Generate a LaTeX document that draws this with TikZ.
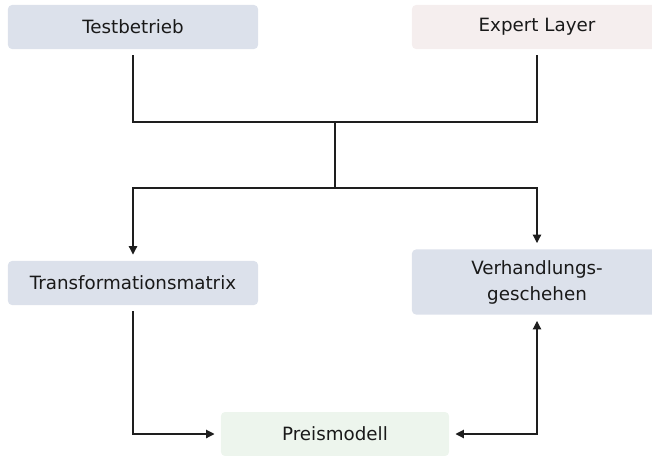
\documentclass[tikz,border=0pt]{standalone}
\usepackage{fontspec}
\setmainfont{DejaVu Sans}
\usetikzlibrary{arrows.meta}

\definecolor{boxblue}{RGB}{220,225,235}
\definecolor{boxrose}{RGB}{245,238,238}
\definecolor{boxgreen}{RGB}{237,245,237}
\definecolor{linegray}{RGB}{30,30,30}

\begin{document}
\begin{tikzpicture}[x=0.025cm, y=-0.025cm,
  bloc/.style={rounded corners=0.1cm, minimum width=6.25cm, minimum height=1.1cm,
    align=center, outer sep=4.6pt, font=\fontsize{13}{18.5}\selectfont, text=black!90},
  lien/.style={color=linegray, line width=0.8pt},
  fleche/.style={lien, -{Triangle[length=6pt, width=6pt]}},
  dfleche/.style={lien, {Triangle[length=6pt, width=6pt]}-{Triangle[length=6pt, width=6pt]}}]

  % Bounding box of the scheme
  \useasboundingbox (0,0) rectangle (652,455);

  %%%%%%%%%%%%%%%%%%%%%%%%%%%%%%%%% Blocs %%%%%%%%%%%%%%%%%%%%%%%%%%%%%%%%%%%%
  \draw (133,27) node[bloc, fill=boxblue] (test) {Testbetrieb} ;
  \draw (537,27) node[bloc, fill=boxrose] (expert) {Expert Layer} ;
  \draw (133,283) node[bloc, fill=boxblue] (trans) {Transformationsmatrix} ;
  \draw (537,282) node[bloc, fill=boxblue, minimum height=1.625cm] (verh) {Verhandlungs-\\geschehen} ;
  \draw (335,434) node[bloc, fill=boxgreen, minimum width=5.7cm] (preis) {Preismodell} ;

  % Points de jonction
  \coordinate (j1) at (335,122) ;
  \coordinate (j2) at (335,188) ;

  %%%%%%%%%%%%%%%%%%%%%%%%%%%%%%%%% Liens %%%%%%%%%%%%%%%%%%%%%%%%%%%%%%%%%%%%
  \draw[lien] (test.south) |- (j1) -| (expert.south) ;
  \draw[lien] (j1) -- (j2) ;
  \draw[fleche] (j2) -| (trans.north) ;
  \draw[fleche] (j2) -| (verh.north) ;
  \draw[fleche] (trans.south) |- (preis.west) ;
  \draw[dfleche] (preis.east) -| (verh.south) ;

\end{tikzpicture}
\end{document}
